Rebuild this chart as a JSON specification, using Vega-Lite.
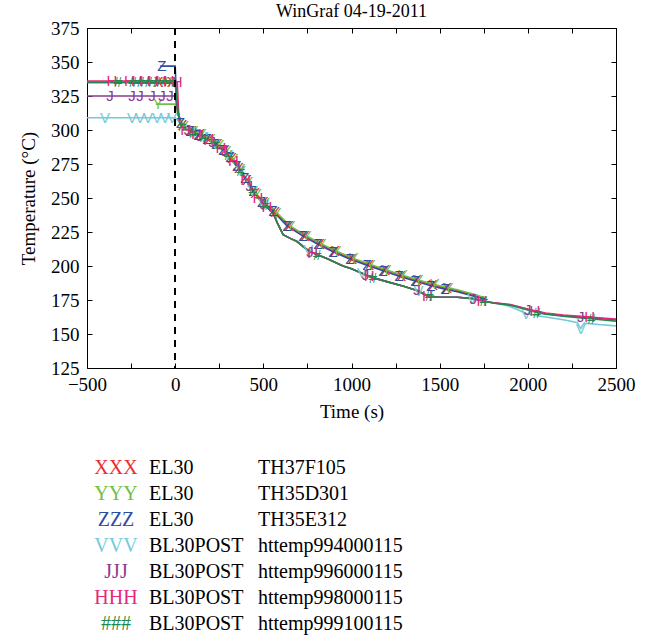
{
  "$schema": "https://vega.github.io/schema/vega-lite/v6.json",
  "padding": {"left": 19, "top": 2, "right": 5, "bottom": 0},
  "config": {
    "font": "Liberation Serif",
    "view": {"stroke": "black", "strokeWidth": 1},
    "axis": {"labelFont": "Liberation Serif", "titleFont": "Liberation Serif", "labelFontSize": 19, "titleFontSize": 19, "titleFontWeight": "normal", "labelColor": "black", "titleColor": "black", "tickColor": "black", "domainColor": "black", "grid": false, "tickSize": -5, "labelFlush": false, "labelOverlap": false},
    "title": {"font": "Liberation Serif", "fontSize": 18, "fontWeight": "normal", "color": "black"}
  },
  "datasets": {
    "curves": [
      {"s":"XXX","t":-500,"v":335},{"s":"XXX","t":-95,"v":335,"c":"X"},{"s":"XXX","t":-20,"v":335,"c":"X"},{"s":"XXX","t":0,"v":335},{"s":"XXX","t":10,"v":321},{"s":"XXX","t":20,"v":311},
      {"s":"XXX","t":42,"v":303.6,"c":"X"},{"s":"XXX","t":96,"v":299,"c":"X"},{"s":"XXX","t":142,"v":296.8,"c":"X"},{"s":"XXX","t":193,"v":293.5,"c":"X"},{"s":"XXX","t":242,"v":289.7,"c":"X"},{"s":"XXX","t":283,"v":285,"c":"X"},{"s":"XXX","t":323,"v":279.3,"c":"X"},{"s":"XXX","t":362,"v":272.4,"c":"X"},{"s":"XXX","t":407,"v":263,"c":"X"},{"s":"XXX","t":454,"v":253.8,"c":"X"},{"s":"XXX","t":502,"v":246.8,"c":"X"},{"s":"XXX","t":567,"v":239.8,"c":"X"},{"s":"XXX","t":646,"v":229.5,"c":"X"},{"s":"XXX","t":737,"v":222.2,"c":"X"},{"s":"XXX","t":822,"v":216.2,"c":"X"},{"s":"XXX","t":907,"v":210.8,"c":"X"},{"s":"XXX","t":1004,"v":205.4,"c":"X"},{"s":"XXX","t":1100,"v":201,"c":"X"},{"s":"XXX","t":1191,"v":197,"c":"X"},{"s":"XXX","t":1282,"v":193,"c":"X"},{"s":"XXX","t":1372,"v":189.5,"c":"X"},{"s":"XXX","t":1462,"v":186.1,"c":"X"},{"s":"XXX","t":1542,"v":183.7,"c":"X"},{"s":"XXX","t":1600,"v":182},{"s":"XXX","t":1700,"v":178},{"s":"XXX","t":1760,"v":176},

      {"s":"YYY","t":-110,"v":319},{"s":"YYY","t":-97,"v":319,"c":"Y"},{"s":"YYY","t":0,"v":319},{"s":"YYY","t":10,"v":314},{"s":"YYY","t":20,"v":310},{"s":"YYY","t":30,"v":306},
      {"s":"YYY","t":50,"v":303,"c":"Y"},{"s":"YYY","t":104,"v":299.3,"c":"Y"},{"s":"YYY","t":150,"v":296.7,"c":"Y"},{"s":"YYY","t":201,"v":293.5,"c":"Y"},{"s":"YYY","t":250,"v":289.3,"c":"Y"},{"s":"YYY","t":291,"v":284.3,"c":"Y"},{"s":"YYY","t":331,"v":278.6,"c":"Y"},{"s":"YYY","t":370,"v":271.3,"c":"Y"},{"s":"YYY","t":415,"v":261.7,"c":"Y"},{"s":"YYY","t":462,"v":252.9,"c":"Y"},{"s":"YYY","t":510,"v":246.5,"c":"Y"},{"s":"YYY","t":575,"v":239.2,"c":"Y"},{"s":"YYY","t":654,"v":229.3,"c":"Y"},{"s":"YYY","t":745,"v":222.1,"c":"Y"},{"s":"YYY","t":830,"v":216.2,"c":"Y"},{"s":"YYY","t":915,"v":210.9,"c":"Y"},{"s":"YYY","t":1012,"v":205.6,"c":"Y"},{"s":"YYY","t":1108,"v":201.1,"c":"Y"},{"s":"YYY","t":1199,"v":197.1,"c":"Y"},{"s":"YYY","t":1290,"v":193.2,"c":"Y"},{"s":"YYY","t":1380,"v":189.7,"c":"Y"},{"s":"YYY","t":1470,"v":186.4,"c":"Y"},{"s":"YYY","t":1550,"v":183.9,"c":"Y"},{"s":"YYY","t":1600,"v":182.5},{"s":"YYY","t":1700,"v":179},{"s":"YYY","t":1760,"v":176.5},

      {"s":"ZZZ","t":-85,"v":347},{"s":"ZZZ","t":-75,"v":347,"c":"Z"},{"s":"ZZZ","t":0,"v":347},{"s":"ZZZ","t":8,"v":322},{"s":"ZZZ","t":20,"v":310},
      {"s":"ZZZ","t":30,"v":305,"c":"Z"},{"s":"ZZZ","t":84,"v":299,"c":"Z"},{"s":"ZZZ","t":130,"v":296.5,"c":"Z"},{"s":"ZZZ","t":181,"v":293.3,"c":"Z"},{"s":"ZZZ","t":230,"v":290,"c":"Z"},{"s":"ZZZ","t":271,"v":285.5,"c":"Z"},{"s":"ZZZ","t":311,"v":280,"c":"Z"},{"s":"ZZZ","t":350,"v":273.5,"c":"Z"},{"s":"ZZZ","t":395,"v":264.5,"c":"Z"},{"s":"ZZZ","t":442,"v":255,"c":"Z"},{"s":"ZZZ","t":490,"v":247,"c":"Z"},{"s":"ZZZ","t":555,"v":240.5,"c":"Z"},{"s":"ZZZ","t":634,"v":229.5,"c":"Z"},{"s":"ZZZ","t":725,"v":222,"c":"Z"},{"s":"ZZZ","t":810,"v":216,"c":"Z"},{"s":"ZZZ","t":895,"v":210.5,"c":"Z"},{"s":"ZZZ","t":992,"v":205,"c":"Z"},{"s":"ZZZ","t":1088,"v":200.5,"c":"Z"},{"s":"ZZZ","t":1179,"v":196.5,"c":"Z"},{"s":"ZZZ","t":1270,"v":192.5,"c":"Z"},{"s":"ZZZ","t":1360,"v":189,"c":"Z"},{"s":"ZZZ","t":1450,"v":185.5,"c":"Z"},{"s":"ZZZ","t":1530,"v":183,"c":"Z"},{"s":"ZZZ","t":1600,"v":181},{"s":"ZZZ","t":1700,"v":177.5},{"s":"ZZZ","t":1760,"v":175.5},

      {"s":"VVV","t":-500,"v":309},{"s":"VVV","t":-398,"v":309,"c":"V"},{"s":"VVV","t":-245,"v":309,"c":"V"},{"s":"VVV","t":-199,"v":309,"c":"V"},{"s":"VVV","t":-154,"v":309,"c":"V"},{"s":"VVV","t":-103,"v":309,"c":"V"},{"s":"VVV","t":-58,"v":309,"c":"V"},{"s":"VVV","t":-18,"v":309,"c":"V"},{"s":"VVV","t":0,"v":309},{"s":"VVV","t":15,"v":307},{"s":"VVV","t":30,"v":304},
      {"s":"VVV","t":90,"v":298.6,"c":"V"},{"s":"VVV","t":160,"v":294.6,"c":"V"},{"s":"VVV","t":230,"v":290,"c":"V"},{"s":"VVV","t":300,"v":281.5,"c":"V"},{"s":"VVV","t":370,"v":269.8,"c":"V"},{"s":"VVV","t":440,"v":255.3,"c":"V"},{"s":"VVV","t":500,"v":245.8,"c":"V"},{"s":"VVV","t":555,"v":239},{"s":"VVV","t":580,"v":231.5},{"s":"VVV","t":612,"v":223},{"s":"VVV","t":650,"v":220.5},{"s":"VVV","t":691,"v":218},{"s":"VVV","t":755,"v":211.4,"c":"V"},{"s":"VVV","t":802,"v":208.5},{"s":"VVV","t":860,"v":205.5},{"s":"VVV","t":952,"v":200},{"s":"VVV","t":1000,"v":198},{"s":"VVV","t":1060,"v":194.6,"c":"V"},{"s":"VVV","t":1105,"v":192},{"s":"VVV","t":1200,"v":188.5},{"s":"VVV","t":1300,"v":185},{"s":"VVV","t":1380,"v":181.5,"c":"V"},{"s":"VVV","t":1430,"v":178},{"s":"VVV","t":1500,"v":177},{"s":"VVV","t":1600,"v":177},{"s":"VVV","t":1685,"v":176,"c":"V"},{"s":"VVV","t":1740,"v":174.5},{"s":"VVV","t":1800,"v":173},{"s":"VVV","t":1880,"v":171},{"s":"VVV","t":1940,"v":168},{"s":"VVV","t":1990,"v":165,"c":"V"},{"s":"VVV","t":2050,"v":163.5},{"s":"VVV","t":2100,"v":162.5},{"s":"VVV","t":2200,"v":160.5},{"s":"VVV","t":2280,"v":158.5},{"s":"VVV","t":2300,"v":154,"c":"V"},{"s":"VVV","t":2320,"v":158},{"s":"VVV","t":2400,"v":157},{"s":"VVV","t":2500,"v":156},

      {"s":"JJJ","t":-500,"v":325},{"s":"JJJ","t":-369,"v":325,"c":"J"},{"s":"JJJ","t":-245,"v":325,"c":"J"},{"s":"JJJ","t":-199,"v":325,"c":"J"},{"s":"JJJ","t":-131,"v":325,"c":"J"},{"s":"JJJ","t":-74,"v":325,"c":"J"},{"s":"JJJ","t":-29,"v":325,"c":"J"},{"s":"JJJ","t":0,"v":325},{"s":"JJJ","t":10,"v":317},{"s":"JJJ","t":20,"v":310},{"s":"JJJ","t":30,"v":305},
      {"s":"JJJ","t":70,"v":299.7,"c":"J"},{"s":"JJJ","t":140,"v":295.9,"c":"J"},{"s":"JJJ","t":210,"v":291.4,"c":"J"},{"s":"JJJ","t":280,"v":284.3,"c":"J"},{"s":"JJJ","t":350,"v":273.8,"c":"J"},{"s":"JJJ","t":420,"v":259.1,"c":"J"},{"s":"JJJ","t":500,"v":245.8,"c":"J"},{"s":"JJJ","t":555,"v":239},{"s":"JJJ","t":580,"v":231.5},{"s":"JJJ","t":612,"v":223},{"s":"JJJ","t":650,"v":220.5},{"s":"JJJ","t":691,"v":218},{"s":"JJJ","t":765,"v":210.5,"c":"J"},{"s":"JJJ","t":802,"v":208.5},{"s":"JJJ","t":860,"v":205.5},{"s":"JJJ","t":952,"v":200},{"s":"JJJ","t":1000,"v":198},{"s":"JJJ","t":1080,"v":193.4,"c":"J"},{"s":"JJJ","t":1105,"v":192},{"s":"JJJ","t":1200,"v":188.5},{"s":"JJJ","t":1300,"v":185},{"s":"JJJ","t":1372,"v":182,"c":"J"},{"s":"JJJ","t":1430,"v":178},{"s":"JJJ","t":1500,"v":177},{"s":"JJJ","t":1600,"v":177},{"s":"JJJ","t":1690,"v":176,"c":"J"},{"s":"JJJ","t":1740,"v":174.5},{"s":"JJJ","t":1800,"v":173},{"s":"JJJ","t":1900,"v":171.5},{"s":"JJJ","t":2000,"v":168,"c":"J"},{"s":"JJJ","t":2100,"v":165},{"s":"JJJ","t":2200,"v":163.5},{"s":"JJJ","t":2300,"v":162.5,"c":"J"},{"s":"JJJ","t":2400,"v":161.5},{"s":"JJJ","t":2500,"v":160.5},

      {"s":"HHH","t":-500,"v":336},{"s":"HHH","t":-358,"v":336,"c":"H"},{"s":"HHH","t":-260,"v":336,"c":"H"},{"s":"HHH","t":-215,"v":336,"c":"H"},{"s":"HHH","t":-170,"v":336,"c":"H"},{"s":"HHH","t":-125,"v":336,"c":"H"},{"s":"HHH","t":-80,"v":336,"c":"H"},{"s":"HHH","t":-35,"v":336,"c":"H"},{"s":"HHH","t":0,"v":336},{"s":"HHH","t":12,"v":335,"c":"H"},{"s":"HHH","t":20,"v":312},{"s":"HHH","t":30,"v":305},
      {"s":"HHH","t":60,"v":300.3,"c":"H"},{"s":"HHH","t":120,"v":297,"c":"H"},{"s":"HHH","t":190,"v":292.7,"c":"H"},{"s":"HHH","t":260,"v":286.7,"c":"H"},{"s":"HHH","t":330,"v":277.3,"c":"H"},{"s":"HHH","t":400,"v":263.4,"c":"H"},{"s":"HHH","t":470,"v":250,"c":"H"},{"s":"HHH","t":520,"v":243.3,"c":"H"},{"s":"HHH","t":555,"v":239},{"s":"HHH","t":580,"v":231.5},{"s":"HHH","t":612,"v":223},{"s":"HHH","t":650,"v":220.5},{"s":"HHH","t":691,"v":218},{"s":"HHH","t":746,"v":212},{"s":"HHH","t":780,"v":209.9,"c":"H"},{"s":"HHH","t":860,"v":205.5},{"s":"HHH","t":952,"v":200},{"s":"HHH","t":1000,"v":198},{"s":"HHH","t":1100,"v":192.3,"c":"H"},{"s":"HHH","t":1200,"v":188.5},{"s":"HHH","t":1300,"v":185},{"s":"HHH","t":1372,"v":182},{"s":"HHH","t":1430,"v":178,"c":"H"},{"s":"HHH","t":1500,"v":177},{"s":"HHH","t":1600,"v":177},{"s":"HHH","t":1690,"v":176},{"s":"HHH","t":1740,"v":174.5,"c":"H"},{"s":"HHH","t":1800,"v":173.2},{"s":"HHH","t":1900,"v":171.7},{"s":"HHH","t":2000,"v":168.3},{"s":"HHH","t":2040,"v":167,"c":"H"},{"s":"HHH","t":2100,"v":165.5},{"s":"HHH","t":2200,"v":164},{"s":"HHH","t":2300,"v":163},{"s":"HHH","t":2350,"v":162.5,"c":"H"},{"s":"HHH","t":2400,"v":162},{"s":"HHH","t":2500,"v":161},

      {"s":"###","t":-500,"v":335},{"s":"###","t":-324,"v":335,"c":"#"},{"s":"###","t":-240,"v":335,"c":"#"},{"s":"###","t":-195,"v":335,"c":"#"},{"s":"###","t":-150,"v":335,"c":"#"},{"s":"###","t":-105,"v":335,"c":"#"},{"s":"###","t":-62,"v":335,"c":"#"},{"s":"###","t":-20,"v":335,"c":"#"},{"s":"###","t":0,"v":335},{"s":"###","t":10,"v":321},{"s":"###","t":20,"v":310},{"s":"###","t":30,"v":305},
      {"s":"###","t":40,"v":303,"c":"#"},{"s":"###","t":100,"v":298,"c":"#"},{"s":"###","t":160,"v":294.6,"c":"#"},{"s":"###","t":230,"v":290,"c":"#"},{"s":"###","t":300,"v":281.5,"c":"#"},{"s":"###","t":370,"v":269.8,"c":"#"},{"s":"###","t":440,"v":255.3,"c":"#"},{"s":"###","t":510,"v":244.5,"c":"#"},{"s":"###","t":555,"v":239},{"s":"###","t":580,"v":231.5},{"s":"###","t":612,"v":223},{"s":"###","t":650,"v":220.5},{"s":"###","t":691,"v":218},{"s":"###","t":746,"v":212},{"s":"###","t":805,"v":208.3,"c":"#"},{"s":"###","t":860,"v":205.5},{"s":"###","t":952,"v":200},{"s":"###","t":1000,"v":198},{"s":"###","t":1122,"v":191.4,"c":"#"},{"s":"###","t":1200,"v":188.5},{"s":"###","t":1300,"v":185},{"s":"###","t":1372,"v":182},{"s":"###","t":1440,"v":177.8,"c":"#"},{"s":"###","t":1500,"v":177},{"s":"###","t":1600,"v":177},{"s":"###","t":1690,"v":176},{"s":"###","t":1750,"v":174.2,"c":"#"},{"s":"###","t":1800,"v":172.8},{"s":"###","t":1900,"v":171.2},{"s":"###","t":2000,"v":167.6},{"s":"###","t":2050,"v":165.8,"c":"#"},{"s":"###","t":2100,"v":164.6},{"s":"###","t":2200,"v":163},{"s":"###","t":2300,"v":161.8},{"s":"###","t":2360,"v":161.2,"c":"#"},{"s":"###","t":2400,"v":160.7},{"s":"###","t":2500,"v":159.5}
    ],
    "legend": [
      {"code":"XXX","grp":"EL30","sensor":"TH37F105"},
      {"code":"YYY","grp":"EL30","sensor":"TH35D301"},
      {"code":"ZZZ","grp":"EL30","sensor":"TH35E312"},
      {"code":"VVV","grp":"BL30POST","sensor":"httemp994000115"},
      {"code":"JJJ","grp":"BL30POST","sensor":"httemp996000115"},
      {"code":"HHH","grp":"BL30POST","sensor":"httemp998000115"},
      {"code":"###","grp":"BL30POST","sensor":"httemp999100115"}
    ]
  },
  "spacing": 33,
  "vconcat": [
    {
      "title": {"text": "WinGraf 04-19-2011", "offset": -2},
      "width": 529,
      "height": 340,
      "data": {"name": "curves"},
      "resolve": {"axis": {"x": "independent", "y": "independent"}},
      "layer": [
        {
          "mark": {"type": "line", "strokeWidth": 1.6, "clip": true},
          "encoding": {
            "x": {"field": "t", "type": "quantitative", "scale": {"domain": [-500, 2500], "nice": false, "zero": false},
                  "axis": {"orient": "bottom", "title": "Time (s)", "format": "d", "values": [-500,-250,0,250,500,750,1000,1250,1500,1750,2000,2250,2500], "labelExpr": "datum.value % 500 === 0 ? datum.label : ''", "labelPadding": 12, "titlePadding": 8, "domain": false}},
            "y": {"field": "v", "type": "quantitative", "scale": {"domain": [125, 375], "nice": false, "zero": false},
                  "axis": {"orient": "left", "title": "Temperature (°C)", "values": [125,150,175,200,225,250,275,300,325,350,375], "labelPadding": 13, "titlePadding": 12, "domain": false}},
            "color": {"field": "s", "type": "nominal", "legend": null,
                      "scale": {"domain": ["XXX","YYY","ZZZ","VVV","JJJ","HHH","###"], "range": ["#ec2a30","#72bf44","#2f4d9e","#71cbd8","#8b3c8e","#e4287c","#23894a"]}},
            "detail": {"field": "s"},
            "order": {"field": "t", "type": "quantitative"}
          }
        },
        {
          "transform": [{"filter": "datum.c"}],
          "mark": {"type": "text", "font": "Liberation Sans", "fontSize": 15, "baseline": "middle", "align": "center", "clip": true},
          "encoding": {
            "x": {"field": "t", "type": "quantitative", "axis": {"orient": "top", "labels": false, "title": null, "domain": false, "values": [-500,-250,0,250,500,750,1000,1250,1500,1750,2000,2250,2500]}},
            "y": {"field": "v", "type": "quantitative", "axis": {"orient": "right", "labels": false, "title": null, "domain": false, "values": [125,150,175,200,225,250,275,300,325,350,375]}},
            "text": {"field": "c"},
            "color": {"field": "s", "type": "nominal", "legend": null}
          }
        },
        {
          "mark": {"type": "rule", "color": "black", "strokeWidth": 1.5, "strokeDash": [7, 6]},
          "encoding": {"x": {"datum": 0, "type": "quantitative", "axis": null}}
        }
      ]
    },
    {
      "width": 529,
      "height": 182,
      "view": {"stroke": null},
      "data": {"name": "legend"},
      "encoding": {
        "y": {"field": "code", "type": "nominal", "sort": null, "scale": {"type": "point", "padding": 0.5}, "axis": null}
      },
      "layer": [
        {
          "mark": {"type": "text", "font": "Liberation Serif", "fontSize": 20, "align": "center", "baseline": "middle"},
          "encoding": {
            "x": {"value": 29},
            "text": {"field": "code"},
            "color": {"field": "code", "type": "nominal", "legend": null,
                      "scale": {"domain": ["XXX","YYY","ZZZ","VVV","JJJ","HHH","###"], "range": ["#ec2a30","#72bf44","#2f4d9e","#71cbd8","#8b3c8e","#e4287c","#23894a"]}}
          }
        },
        {
          "mark": {"type": "text", "font": "Liberation Serif", "fontSize": 20, "align": "left", "baseline": "middle", "color": "black"},
          "encoding": {"x": {"value": 62}, "text": {"field": "grp"}}
        },
        {
          "mark": {"type": "text", "font": "Liberation Serif", "fontSize": 20, "align": "left", "baseline": "middle", "color": "black"},
          "encoding": {"x": {"value": 171}, "text": {"field": "sensor"}}
        }
      ]
    }
  ]
}
